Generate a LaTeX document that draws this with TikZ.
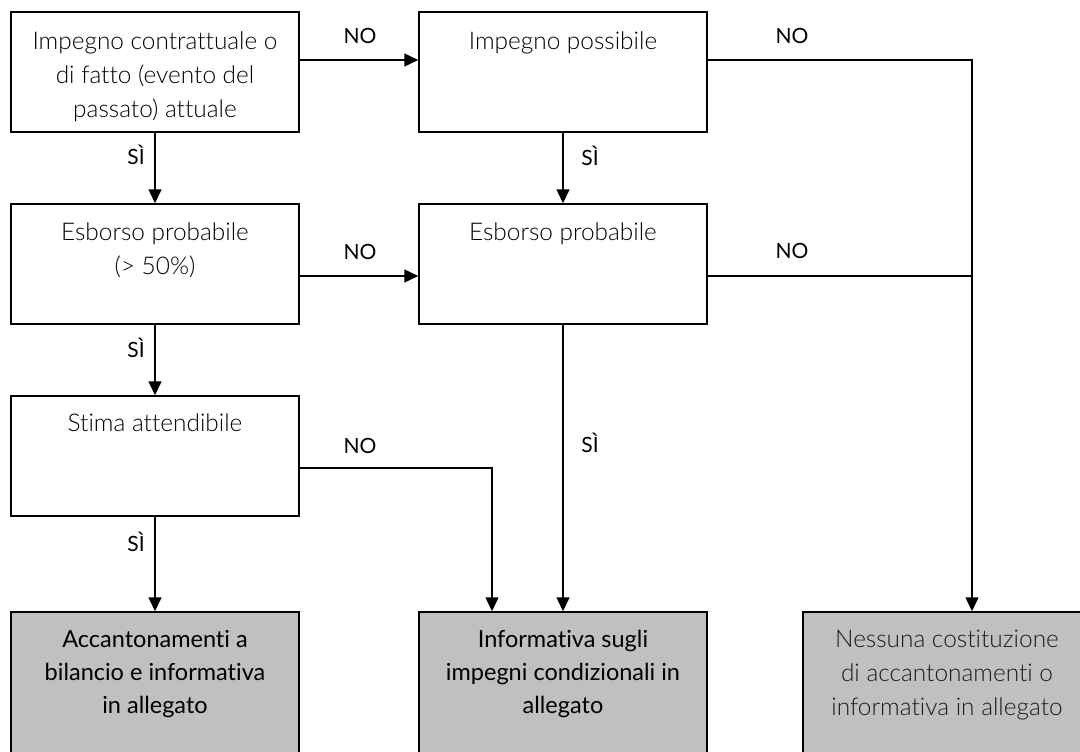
\documentclass[tikz,border=0pt]{standalone}
\usepackage{fontspec}
\setmainfont{Lato}[Ligatures=NoCommon]
\newfontfamily\lightfont{Lato Light}[Ligatures=NoCommon]
\usetikzlibrary{arrows.meta}
\definecolor{boxgray}{HTML}{C0C0C0}
\definecolor{lighttext}{HTML}{1A1A1A}
\tikzset{
  box/.style={draw, line width=1.5pt, minimum width=288pt, minimum height=120pt, inner sep=0pt},
  endbox/.style={box, fill=boxgray, minimum height=160pt},
  boxtext/.style={anchor=north, align=center, inner sep=0pt, font=\lightfont\fontsize{24.4}{34}\selectfont},
  endtext/.style={anchor=north, align=center, inner sep=0pt, font=\fontsize{23.5}{33}\selectfont},
  lbl/.style={inner sep=0pt, font=\fontsize{21}{24}\selectfont},
  conn/.style={line width=1.5pt},
  arr/.style={conn, -{Triangle[length=14pt,width=13pt]}}
}
\begin{document}
\begin{tikzpicture}[x=1pt,y=-1pt]
\useasboundingbox (0,0) rectangle (1080,752);
\clip (0,0) rectangle (1080,752);
% decision boxes
\node[box] (b1) at (155,72) {};
\node[box] (b2) at (563,72) {};
\node[box] (b3) at (155,264) {};
\node[box] (b4) at (563,264) {};
\node[box] (b5) at (155,456) {};
% result boxes
\node[endbox] (r1) at (155,692) {};
\node[endbox] (r2) at (563,692) {};
\node[endbox] (r3) at (947,692) {};
% texts
\node[boxtext] (t1) at ([yshift=-20pt]b1.north) {Impegno contrattuale o\\di fatto (evento del\\passato) attuale};
\node[boxtext] (t2) at ([yshift=-20pt]b2.north) {Impegno possibile};
\node[boxtext] (t3) at ([yshift=-19pt]b3.north) {Esborso probabile\\(> 50\%)};
\node[boxtext] (t4) at ([yshift=-19pt]b4.north) {Esborso probabile};
\node[boxtext] (t5) at ([yshift=-18pt]b5.north) {Stima attendibile};
\node[endtext] (t6) at ([yshift=-19pt]r1.north) {Accantonamenti a\\bilancio e informativa\\in allegato};
\node[endtext] (t7) at ([yshift=-19pt]r2.north) {Informativa sugli\\impegni condizionali in\\allegato};
\node[boxtext, text=lighttext] (t8) at ([yshift=-19pt]r3.north) {Nessuna costituzione\\di accantonamenti o\\informativa in allegato};
% junction points
\coordinate (j1) at (972,60);
\coordinate (j2) at (492,468);
% connectors
\draw[arr] (b1.south) -- (b3.north);
\draw[arr] (b3.south) -- (b5.north);
\draw[arr] (b5.south) -- (r1.north);
\draw[arr] (b2.south) -- (b4.north);
\draw[arr] (b4.south) -- (r2.north);
\draw[arr] ([yshift=12pt]b1.east) -- ([yshift=12pt]b2.west);
\draw[arr] ([yshift=-12pt]b3.east) -- ([yshift=-12pt]b4.west);
\draw[arr] ([yshift=12pt]b2.east) -- (j1) -- (j1 |- r3.north);
\draw[conn] ([yshift=-12pt]b4.east) -- ([yshift=-12pt]b4.east -| j1);
\draw[arr] ([yshift=-12pt]b5.east) -- (j2) -- (j2 |- r2.north);
% labels
\node[lbl] (n1) at (360,36) {NO};
\node[lbl] (n2) at (792,36) {NO};
\node[lbl] (n3) at (360,252) {NO};
\node[lbl] (n4) at (792,251) {NO};
\node[lbl] (n5) at (360,446) {NO};
\node[lbl] (s1) at (136,155) {SÌ};
\node[lbl] (s2) at (136,348) {SÌ};
\node[lbl] (s3) at (136,542) {SÌ};
\node[lbl] (s4) at (590,156) {SÌ};
\node[lbl] (s5) at (590,443) {SÌ};
\end{tikzpicture}
\end{document}
